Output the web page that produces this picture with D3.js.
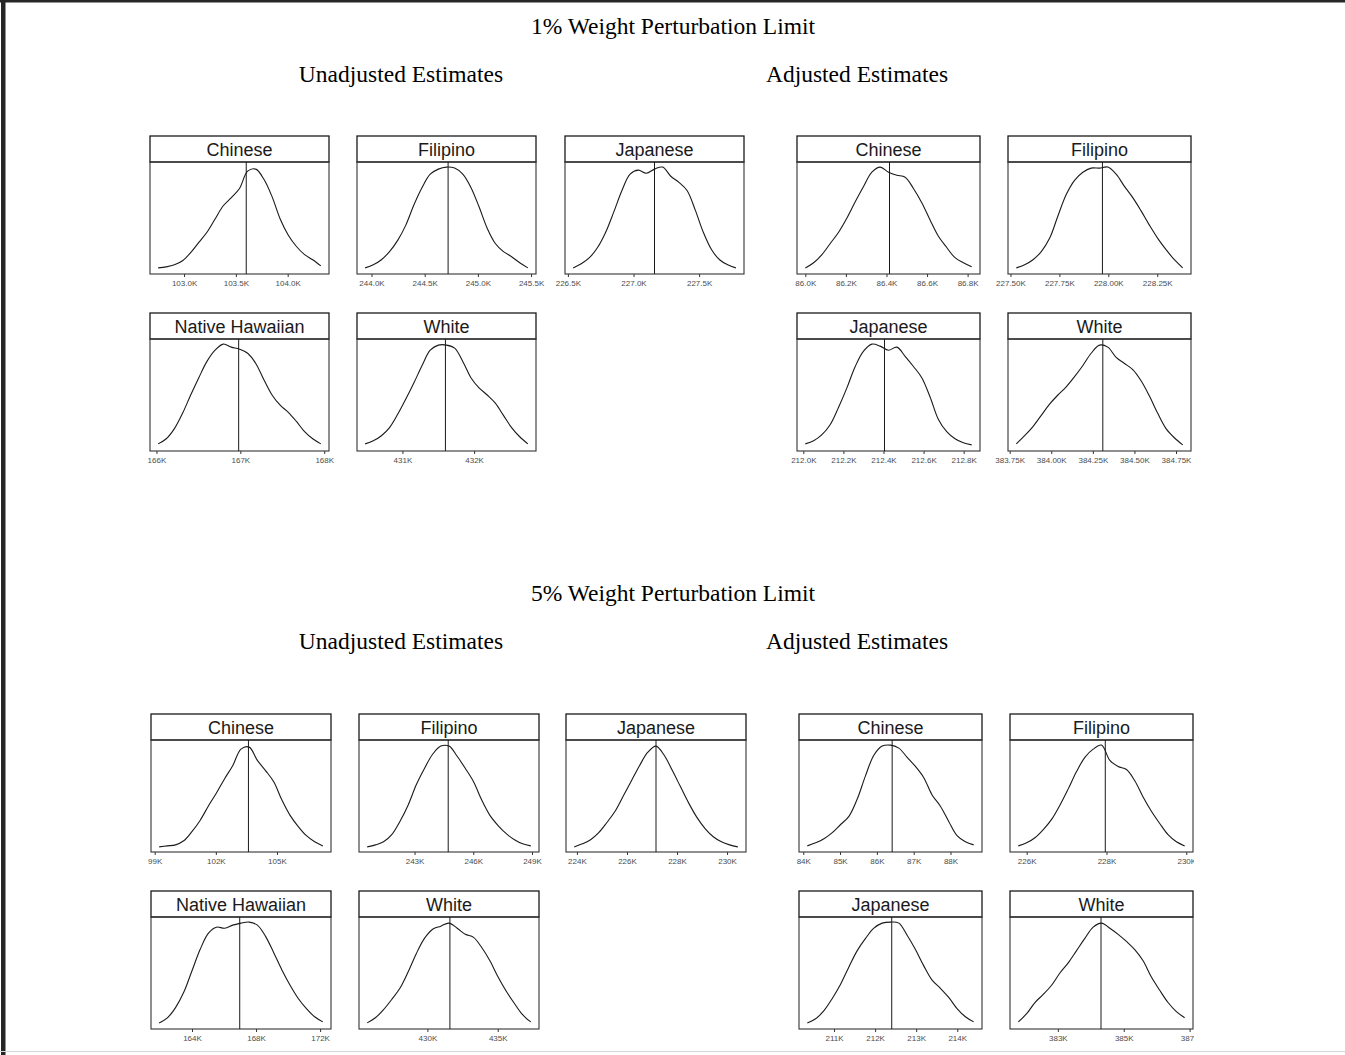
<!DOCTYPE html>
<html lang="en">
<head>
<meta charset="UTF-8">
<title>Weight Perturbation Limit - density of estimates</title>
<script src="https://cdn.jsdelivr.net/npm/d3@7"></script>
<style>
  body { margin: 0; background: #fff; }
  svg { display: block; }
  .title { font-family: "Liberation Serif", "Times New Roman", serif; font-size: 23.5px; fill: #000; }
  .strip text { font-family: "Liberation Sans", Arial, sans-serif; font-size: 18px; fill: #1a1a1a; }
  .axis text { font-family: "Liberation Sans", Arial, sans-serif; font-size: 8px; fill: #4d4d4d; }
  .axis line { stroke: #333; }
</style>
</head>
<body>
<svg id="chart" width="1345" height="1055"></svg>
<script>
// groups and point estimates (thousands)
const unadjGroups = ["Chinese", "Filipino", "Japanese", "Native Hawaiian", "White"];
const adjGroups = ["Chinese", "Filipino", "Japanese", "White"];
const unadjEstimate = [103.60, 244.72, 227.16, 166.98, 431.60];
const adjEstimate = [86.415, 227.97, 212.405, 384.31];

// 1% limit: range of the perturbed estimates, tick labels, density (relative, evenly spaced over range)
const unadj1Range = [[102.75, 104.32], [243.94, 245.47], [226.54, 227.78], [166.02, 167.96], [430.48, 432.75]];
const unadj1Ticks = [["103.0K", "103.5K", "104.0K"], ["244.0K", "244.5K", "245.0K", "245.5K"], ["226.5K", "227.0K", "227.5K"], ["166K", "167K", "168K"], ["431K", "432K"]];
const unadj1Density = [
  [0.01, 0.02, 0.04, 0.08, 0.16, 0.26, 0.36, 0.49, 0.62, 0.70, 0.79, 0.96, 0.98, 0.88, 0.71, 0.49, 0.33, 0.22, 0.14, 0.09, 0.03],
  [0.01, 0.04, 0.09, 0.17, 0.28, 0.43, 0.63, 0.80, 0.93, 0.98, 1.00, 0.99, 0.93, 0.80, 0.61, 0.40, 0.25, 0.17, 0.12, 0.06, 0.01],
  [0.01, 0.05, 0.11, 0.21, 0.36, 0.56, 0.77, 0.93, 0.97, 0.94, 0.98, 1.00, 0.91, 0.85, 0.77, 0.58, 0.36, 0.19, 0.09, 0.04, 0.01],
  [0.02, 0.07, 0.17, 0.32, 0.50, 0.67, 0.83, 0.94, 1.00, 0.97, 0.95, 0.91, 0.81, 0.65, 0.50, 0.40, 0.33, 0.24, 0.14, 0.07, 0.02],
  [0.02, 0.05, 0.10, 0.18, 0.31, 0.46, 0.62, 0.79, 0.94, 0.99, 0.99, 0.96, 0.83, 0.67, 0.57, 0.50, 0.42, 0.30, 0.18, 0.09, 0.02]
];
const adj1Range = [[86.00, 86.82], [227.53, 228.38], [212.01, 212.84], [383.79, 384.79]];
const adj1Ticks = [["86.0K", "86.2K", "86.4K", "86.6K", "86.8K"], ["227.50K", "227.75K", "228.00K", "228.25K"], ["212.0K", "212.2K", "212.4K", "212.6K", "212.8K"], ["383.75K", "384.00K", "384.25K", "384.50K", "384.75K"]];
const adj1Density = [
  [0.01, 0.06, 0.14, 0.25, 0.36, 0.50, 0.66, 0.81, 0.95, 1.00, 0.95, 0.92, 0.90, 0.79, 0.65, 0.48, 0.32, 0.21, 0.11, 0.06, 0.02],
  [0.01, 0.04, 0.09, 0.17, 0.30, 0.52, 0.73, 0.87, 0.95, 0.99, 0.99, 1.00, 0.93, 0.81, 0.70, 0.57, 0.43, 0.30, 0.19, 0.09, 0.01],
  [0.02, 0.05, 0.11, 0.21, 0.38, 0.57, 0.78, 0.93, 1.00, 0.98, 0.94, 0.97, 0.88, 0.78, 0.67, 0.48, 0.26, 0.14, 0.07, 0.03, 0.01],
  [0.02, 0.10, 0.19, 0.30, 0.41, 0.50, 0.58, 0.68, 0.79, 0.91, 0.99, 0.97, 0.87, 0.81, 0.75, 0.64, 0.49, 0.32, 0.17, 0.08, 0.01]
];

// 5% limit
const unadj5Range = [[99.22, 107.25], [240.58, 248.94], [223.89, 230.43], [161.95, 172.17], [425.72, 437.35]];
const unadj5Ticks = [["99K", "102K", "105K"], ["243K", "246K", "249K"], ["224K", "226K", "228K", "230K"], ["164K", "168K", "172K"], ["430K", "435K"]];
const unadj5Density = [
  [0.00, 0.01, 0.02, 0.06, 0.15, 0.26, 0.40, 0.53, 0.67, 0.80, 0.96, 0.98, 0.85, 0.75, 0.64, 0.46, 0.31, 0.20, 0.11, 0.05, 0.01],
  [0.00, 0.02, 0.05, 0.12, 0.25, 0.41, 0.61, 0.77, 0.91, 0.99, 0.99, 0.89, 0.77, 0.64, 0.46, 0.31, 0.21, 0.13, 0.07, 0.03, 0.01],
  [0.00, 0.03, 0.07, 0.14, 0.24, 0.35, 0.50, 0.65, 0.80, 0.93, 0.99, 0.90, 0.75, 0.59, 0.43, 0.29, 0.18, 0.10, 0.05, 0.02, 0.00],
  [0.01, 0.06, 0.16, 0.31, 0.52, 0.73, 0.89, 0.95, 0.94, 0.97, 0.99, 1.00, 0.97, 0.86, 0.70, 0.53, 0.38, 0.25, 0.15, 0.07, 0.02],
  [0.01, 0.06, 0.14, 0.24, 0.35, 0.51, 0.69, 0.84, 0.93, 0.96, 0.99, 0.94, 0.88, 0.85, 0.75, 0.62, 0.46, 0.32, 0.20, 0.09, 0.02]
];
const adj5Range = [[84.11, 88.63], [225.79, 229.96], [210.35, 214.40], [381.80, 386.85]];
const adj5Ticks = [["84K", "85K", "86K", "87K", "88K"], ["226K", "228K", "230K"], ["211K", "212K", "213K", "214K"], ["383K", "385K", "387K"]];
const adj5Density = [
  [0.01, 0.04, 0.08, 0.14, 0.22, 0.30, 0.47, 0.70, 0.90, 0.99, 1.00, 0.97, 0.88, 0.79, 0.68, 0.51, 0.40, 0.25, 0.11, 0.05, 0.02],
  [0.01, 0.04, 0.09, 0.17, 0.27, 0.41, 0.57, 0.74, 0.88, 0.96, 1.00, 0.85, 0.79, 0.76, 0.65, 0.49, 0.35, 0.23, 0.12, 0.05, 0.01],
  [0.01, 0.05, 0.13, 0.25, 0.39, 0.56, 0.72, 0.84, 0.94, 0.99, 1.00, 0.99, 0.87, 0.73, 0.57, 0.43, 0.35, 0.26, 0.15, 0.07, 0.02],
  [0.02, 0.10, 0.21, 0.29, 0.38, 0.50, 0.60, 0.72, 0.84, 0.95, 0.99, 0.94, 0.88, 0.81, 0.73, 0.62, 0.46, 0.33, 0.21, 0.12, 0.06]
];

const limits = ["1% Weight Perturbation Limit", "5% Weight Perturbation Limit"];

const svg = d3.select("#chart");

// page frame (scan edges)
svg.append("rect").attr("x", 0).attr("y", 0).attr("width", 1345).attr("height", 2.5).attr("fill", "#262626");
svg.append("rect").attr("x", 1).attr("y", 0).attr("width", 4.5).attr("height", 1055).attr("fill", "#262626");
svg.append("rect").attr("x", 0).attr("y", 1051).attr("width", 1345).attr("height", 1).attr("fill", "#d9d9d9");

const stripH = 26, plotH = 112;

// layout of the two blocks
const layout = [
  { titleY: 34, subY: 82, rowTop: [136, 313], unadjX: [150, 357, 565], unadjW: 179, adjX: [797, 1008], adjW: 183, clip: null },
  { titleY: 601, subY: 649, rowTop: [714, 891], unadjX: [151, 359, 566], unadjW: 180, adjX: [799, 1010], adjW: 183, clip: 1194 }
];

const sets = [
  { unadj: { range: unadj1Range, ticks: unadj1Ticks, dens: unadj1Density }, adj: { range: adj1Range, ticks: adj1Ticks, dens: adj1Density } },
  { unadj: { range: unadj5Range, ticks: unadj5Ticks, dens: unadj5Density }, adj: { range: adj5Range, ticks: adj5Ticks, dens: adj5Density } }
];

const line = d3.line().curve(d3.curveCatmullRom.alpha(0.5));

function drawPanel(g, left, width, top, name, range, tickLabels, dens, estimate, clipX) {
  const plotTop = top + stripH, plotBottom = plotTop + plotH;
  const span = range[1] - range[0];
  const x = d3.scaleLinear().domain([range[0] - 0.05 * span, range[1] + 0.05 * span]).range([left, left + width]);
  const y = d3.scaleLinear().domain([-0.05, 1.05]).range([plotBottom, plotTop]);

  const pg = g.append("g");

  // strip
  const strip = pg.append("g").attr("class", "strip");
  strip.append("rect").attr("x", left).attr("y", top).attr("width", width).attr("height", stripH)
    .attr("fill", "#fff").attr("stroke", "#1a1a1a").attr("stroke-width", 1.3);
  strip.append("text").attr("x", left + width / 2).attr("y", top + 20).attr("text-anchor", "middle").text(name);

  // panel border
  pg.append("rect").attr("x", left).attr("y", plotTop).attr("width", width).attr("height", plotH)
    .attr("fill", "none").attr("stroke", "#333").attr("stroke-width", 1.1);

  // density curve
  const step = span / (dens.length - 1);
  const pts = dens.map((d, i) => [x(range[0] + i * step), y(d)]);
  pg.append("path").attr("d", line(pts)).attr("fill", "none").attr("stroke", "#1a1a1a").attr("stroke-width", 1.1);

  // point estimate
  pg.append("line").attr("x1", x(estimate)).attr("x2", x(estimate)).attr("y1", plotTop).attr("y2", plotBottom)
    .attr("stroke", "#1a1a1a").attr("stroke-width", 1);

  // x axis
  const vals = tickLabels.map(s => +s.replace("K", ""));
  const ax = pg.append("g").attr("class", "axis").attr("transform", `translate(0,${plotBottom})`)
    .call(d3.axisBottom(x).tickValues(vals).tickFormat((d, i) => tickLabels[i]).tickSize(3).tickPadding(3));
  ax.select(".domain").remove();
  if (clipX) {
    const id = "clip" + Math.round(left) + "_" + Math.round(top);
    svg.append("clipPath").attr("id", id).append("rect").attr("x", 0).attr("y", 0).attr("width", clipX).attr("height", 1055);
    ax.attr("clip-path", `url(#${id})`);
  }
}

layout.forEach((L, b) => {
  svg.append("text").attr("class", "title").attr("x", 673).attr("y", L.titleY).attr("text-anchor", "middle").text(limits[b]);
  svg.append("text").attr("class", "title").attr("x", 401).attr("y", L.subY).attr("text-anchor", "middle").text("Unadjusted Estimates");
  svg.append("text").attr("class", "title").attr("x", 857).attr("y", L.subY).attr("text-anchor", "middle").text("Adjusted Estimates");

  const g = svg.append("g");
  const s = sets[b];

  unadjGroups.forEach((name, i) => {
    const col = i % 3, row = Math.floor(i / 3);
    drawPanel(g, L.unadjX[col], L.unadjW, L.rowTop[row], name, s.unadj.range[i], s.unadj.ticks[i], s.unadj.dens[i], unadjEstimate[i], null);
  });
  adjGroups.forEach((name, i) => {
    const col = i % 2, row = Math.floor(i / 2);
    drawPanel(g, L.adjX[col], L.adjW, L.rowTop[row], name, s.adj.range[i], s.adj.ticks[i], s.adj.dens[i], adjEstimate[i], L.clip);
  });
});
</script>
</body>
</html>
